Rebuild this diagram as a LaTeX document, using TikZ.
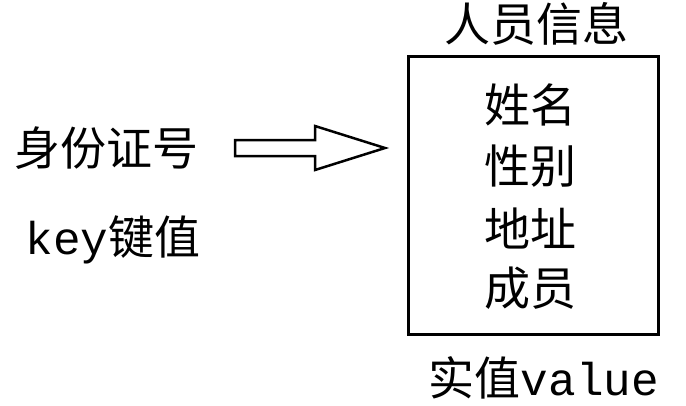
\documentclass[tikz,border=0pt]{standalone}
\usepackage{fontspec}
\newfontfamily\cjk{Noto Sans CJK SC}
\newfontfamily\mono{Liberation Mono}
\begin{document}
\begin{tikzpicture}[x=1pt,y=-1pt,
  txt/.style={font=\cjk\fontsize{46}{50}\selectfont,inner sep=0pt}]
\useasboundingbox[fill=white] (0,0) rectangle (686,405);
\node[draw,line width=2.5pt,minimum width=250pt,minimum height=278pt,anchor=north west] (box) at (407,55) {};
\node[txt] (title) at (536,24) {人员信息};
\node[txt] (n1) at (530,105) {姓名};
\node[txt] (n2) at (530,166) {性别};
\node[txt] (n3) at (530,228) {地址};
\node[txt] (n4) at (530,288) {成员};
\node[txt] (id) at (107,148) {身份证号};
\node[txt] (key) at (113,240) {{\mono key}键值};
\node[txt] (val) at (544,378) {实值{\mono value}};
\coordinate (a0) at (235,148);
\draw[line width=2.5pt,line join=miter] (a0) ++(0,-8) -- ++(80,0) -- ++(0,-14) -- (385,148) -- (315,170) -- ++(0,-14) -- (235,156) -- cycle;
\end{tikzpicture}
\end{document}
